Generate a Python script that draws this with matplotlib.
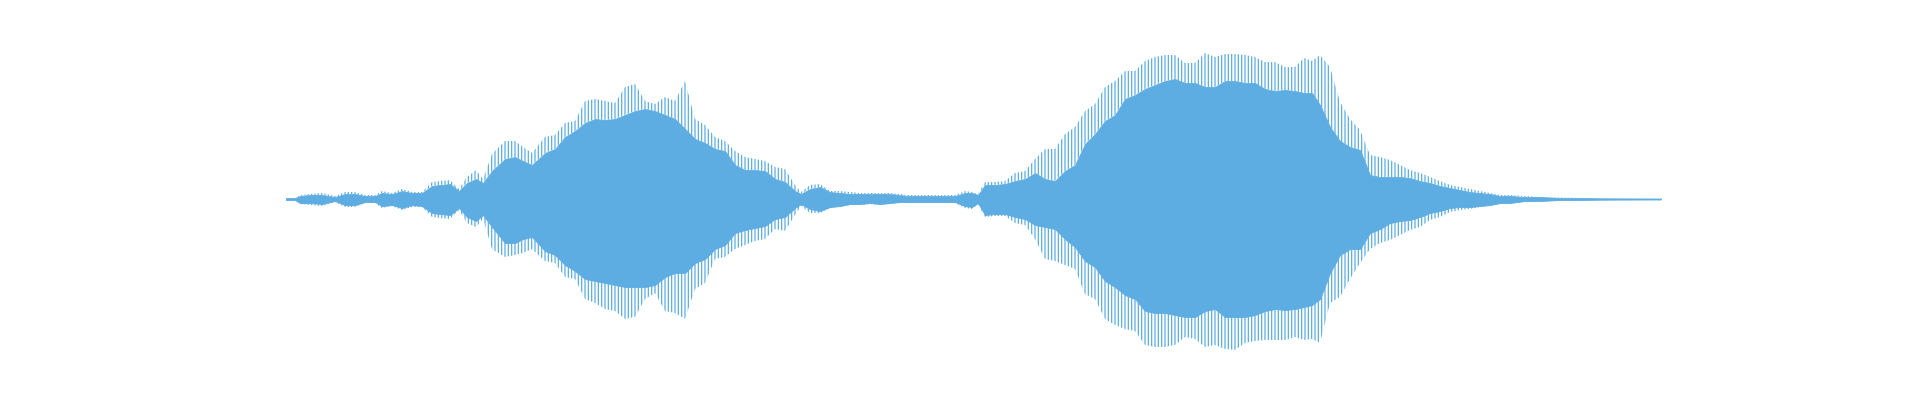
import numpy as np
import matplotlib
matplotlib.use('Agg')
import matplotlib.pyplot as plt

plt.rcParams['hatch.linewidth'] = 0.9
WAVE_COLOR = '#5DADE2'

# time (s) of each reading along the clip
t = [0.000, 0.018, 0.028, 0.048, 0.072, 0.098, 0.118, 0.138, 0.158, 0.178,
     0.192, 0.212, 0.232, 0.252, 0.272, 0.292, 0.308, 0.328, 0.346, 0.362,
     0.380, 0.394, 0.412, 0.438, 0.458, 0.474, 0.492, 0.518, 0.538, 0.558,
     0.578, 0.598, 0.618, 0.638, 0.658, 0.678, 0.698, 0.718, 0.738, 0.758,
     0.778, 0.798, 0.818, 0.838, 0.858, 0.878, 0.898, 0.918, 0.938, 0.958,
     0.978, 0.998, 1.018, 1.030, 1.048, 1.068, 1.088, 1.108, 1.128, 1.148,
     1.168, 1.188, 1.208, 1.228, 1.242, 1.258, 1.288, 1.318, 1.338, 1.358,
     1.372, 1.384, 1.398, 1.418, 1.438, 1.458, 1.478, 1.498, 1.518, 1.538,
     1.558, 1.578, 1.598, 1.618, 1.638, 1.658, 1.678, 1.698, 1.718, 1.738,
     1.758, 1.778, 1.798, 1.818, 1.838, 1.858, 1.878, 1.898, 1.918, 1.938,
     1.958, 1.978, 1.998, 2.018, 2.036, 2.052, 2.068, 2.088, 2.108, 2.128,
     2.148, 2.168, 2.188, 2.208, 2.228, 2.248, 2.268, 2.288, 2.308, 2.328,
     2.348, 2.368, 2.388, 2.408, 2.428, 2.448, 2.478, 2.508, 2.548, 2.588,
     2.628, 2.668, 2.750]

# positive envelope: dense part and spike tips
body_top = [1, 1, 3, 4, 4, 2, 5, 5, 3, 3,
            6, 5, 8, 6, 6, 13, 14, 15, 8, 16,
            20, 16, 28, 40, 42, 38, 34, 46, 50, 62,
            68, 76, 80, 79, 80, 84, 88, 90, 88, 84,
            80, 70, 60, 56, 50, 48, 34, 29, 29, 28,
            20, 17, 8, 5, 10, 12, 7, 6, 5, 5,
            5, 5, 5, 4, 3, 3, 3, 3, 3, 6,
            6, 4, 14, 14, 15, 18, 20, 26, 20, 18,
            28, 34, 55, 65, 78, 84, 100, 104, 110, 114,
            118, 120, 116, 116, 112, 112, 118, 118, 116, 116,
            110, 108, 109, 108, 106, 106, 94, 72, 58, 52,
            49, 24, 22, 22, 22, 21, 18, 16, 13, 11,
            9, 7, 6, 5, 3, 3, 2, 2, 1, 1,
            0.7, 0.6, 0.5]
tip_top = [1, 1, 4, 5, 6, 3, 7, 7, 4, 4,
           8, 6, 10, 7, 7, 17, 18, 19, 10, 22,
           29, 20, 45, 58, 58, 52, 46, 62, 64, 76,
           78, 98, 100, 98, 96, 112, 115, 98, 95, 102,
           98, 118, 80, 74, 62, 58, 48, 42, 40, 38,
           32, 30, 14, 7, 14, 15, 8, 8, 7, 6,
           6, 6, 6, 5, 4, 4, 4, 4, 4, 8,
           7, 5, 17, 17, 18, 26, 28, 40, 50, 50,
           65, 72, 88, 95, 112, 118, 128, 128, 138, 142,
           144, 144, 136, 136, 146, 142, 145, 145, 144, 142,
           137, 137, 132, 132, 141, 138, 144, 132, 97, 80,
           69, 44, 42, 39, 34, 29, 26, 22, 18, 14,
           12, 10, 8, 6, 4, 4, 3, 2, 1.5, 1,
           0.7, 0.6, 0.5]

# negative envelope (magnitudes)
body_bot = [1, 1, 4, 4, 5, 2, 6, 6, 3, 3,
            7, 6, 9, 6, 7, 14, 15, 16, 9, 18,
            22, 16, 28, 44, 44, 40, 38, 52, 56, 66,
            72, 80, 82, 84, 86, 88, 88, 88, 86, 78,
            74, 74, 64, 60, 50, 46, 34, 31, 29, 27,
            20, 18, 9, 5, 10, 12, 8, 7, 5, 5,
            4, 5, 4, 3, 3, 3, 3, 3, 3, 7,
            8, 4, 16, 15, 15, 18, 20, 26, 28, 30,
            40, 48, 62, 68, 82, 88, 96, 100, 112, 114,
            114, 116, 118, 118, 112, 110, 118, 118, 118, 116,
            112, 110, 111, 110, 108, 106, 100, 74, 56, 50,
            50, 34, 30, 24, 22, 21, 18, 14, 12, 9,
            8, 8, 7, 6, 4, 4, 2, 2, 1, 1,
            0.7, 0.6, 0.5]
tip_bot = [1, 1, 5, 6, 7, 3, 8, 8, 4, 4,
           9, 7, 11, 8, 8, 18, 19, 20, 11, 24,
           28, 20, 50, 58, 56, 54, 50, 62, 64, 78,
           80, 100, 104, 110, 112, 120, 118, 100, 94, 112,
           114, 120, 90, 84, 60, 58, 50, 46, 42, 40,
           30, 32, 16, 7, 14, 14, 9, 8, 6, 6,
           5, 6, 5, 4, 4, 4, 4, 4, 4, 9,
           10, 5, 18, 17, 17, 24, 26, 40, 60, 62,
           66, 70, 95, 100, 120, 126, 130, 132, 146, 148,
           148, 146, 138, 140, 148, 146, 150, 151, 144, 142,
           141, 141, 141, 138, 141, 140, 144, 104, 98, 80,
           64, 50, 44, 41, 36, 31, 28, 21, 18, 13,
           11, 10, 8, 7, 5, 4, 3, 2, 1.5, 1,
           0.7, 0.6, 0.5]

t = np.array(t)
body_top = np.array(body_top, dtype=float)
tip_top = np.array(tip_top, dtype=float)
body_bot = -np.array(body_bot, dtype=float)
tip_bot = -np.array(tip_bot, dtype=float)

fig = plt.figure(figsize=(19.2, 4), dpi=100)
ax = fig.add_axes([0, 0, 1, 1])

# solid core of the waveform
ax.fill_between(t, body_bot, body_top, color=WAVE_COLOR, linewidth=0.6)
# spiky fringe drawn as vertical strokes
for lo, hi in ((body_top, tip_top), (tip_bot, body_bot)):
    ax.fill_between(t, lo, hi, facecolor='none', edgecolor=WAVE_COLOR,
                    hatch='|||||', linewidth=0)

ax.set_xlim(-0.572, 3.268)
ax.set_ylim(-201, 199)
ax.axis('off')

fig.savefig('out.png', dpi=100, facecolor='white')
